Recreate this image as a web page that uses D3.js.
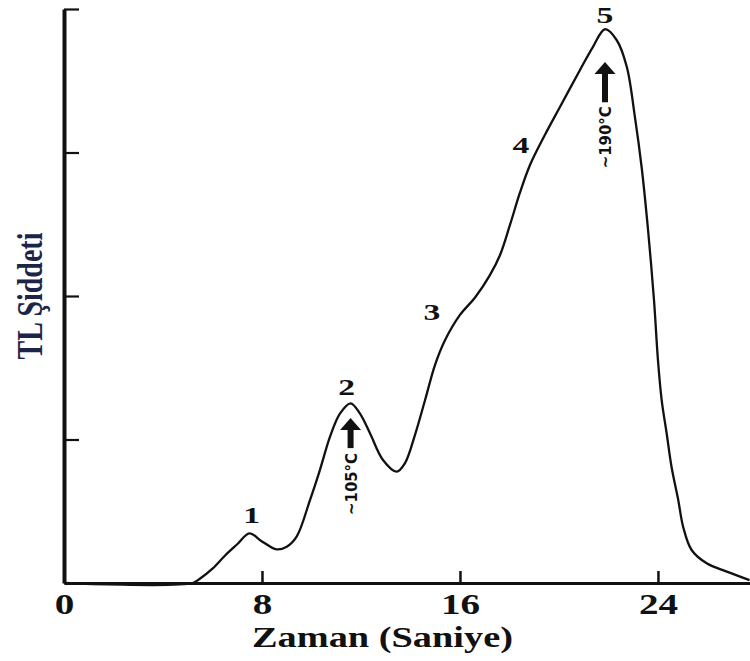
<!DOCTYPE html>
<html>
<head>
<meta charset="utf-8">
<script src="https://cdn.jsdelivr.net/npm/d3@7"></script>
<style>
  html, body { margin: 0; padding: 0; background: #fff; }
  svg { display: block; }
</style>
</head>
<body>
<svg id="chart" width="750" height="661"></svg>
<script>
// ---- data ----
const timeTicks = [0, 8, 16, 24];
const intensityTicks = [1, 2, 3, 4];

const timeVals = [0, 5.2, 5.49, 6.0, 6.5, 7.0, 7.49, 8.0, 8.59, 9.0, 9.4, 9.94, 10.34, 10.75, 11.15, 11.58,
  11.96, 12.36, 12.89, 13.44, 13.78, 14.18, 14.59, 14.99, 15.39, 16.0, 16.61, 17.21, 17.62, 18.02,
  18.42, 18.83, 19.43, 20.04, 20.85, 21.37, 21.86, 22.33, 22.74, 23.07, 23.34, 23.6, 23.84, 24.0,
  24.15, 24.35, 24.55, 24.82, 25.02, 25.36, 25.97, 26.78, 27.7];
const intensityVals = [0, 0, 0.03, 0.1, 0.19, 0.27, 0.346, 0.29, 0.235, 0.253, 0.323, 0.578, 0.787, 1.02, 1.18, 1.252,
  1.18, 1.045, 0.857, 0.776, 0.836, 1.031, 1.275, 1.519, 1.69, 1.868, 1.99, 2.146, 2.286, 2.495,
  2.718, 2.913, 3.122, 3.317, 3.575, 3.735, 3.859, 3.784, 3.598, 3.247, 2.899, 2.46, 1.972, 1.554,
  1.275, 1.045, 0.808, 0.578, 0.39, 0.23, 0.137, 0.079, 0.02];

const peakLabels = ["1", "2", "3", "4", "5"];
const peakLabelTimes = [7.58, 11.42, 14.87, 18.46, 21.86];
const peakLabelIntensities = [0.418, 1.31, 1.833, 2.997, 3.90];

const arrowTexts = ["~105°C", "~190°C"];
const arrowTimes = [11.58, 21.86];
const arrowTipIntensities = [1.15, 3.63];
const arrowBaseIntensities = [0.94, 3.35];
const arrowTextIntensities = [0.474, 2.89];

const xTitle = "Zaman (Saniye)";
const yTitle = "TL Şiddeti";

// ---- chart ----
const svg = d3.select("#chart");
const x = d3.scaleLinear().domain([0, 27.76]).range([64, 751]);
const y = d3.scaleLinear().domain([0, 4]).range([583, 9]);
const ink = "#111";
const serif = "'Liberation Serif', 'Times New Roman', Times, serif";

// curve
const pts = timeVals.map((t, i) => [t, intensityVals[i]]);
const line = d3.line().x(d => x(d[0])).y(d => y(d[1])).curve(d3.curveCatmullRom.alpha(0.5));
svg.append("path").datum(pts)
  .attr("d", line)
  .attr("fill", "none")
  .attr("stroke", ink)
  .attr("stroke-width", 2.3)
  .attr("stroke-linejoin", "round");

// x axis
const xAxis = svg.append("g")
  .attr("transform", `translate(0,${y(0)})`)
  .call(d3.axisBottom(x).tickValues(timeTicks).tickSizeInner(-12).tickSizeOuter(0).tickPadding(10));
xAxis.select(".domain").attr("stroke", ink).attr("stroke-width", 3);
xAxis.selectAll(".tick line").attr("stroke", ink).attr("stroke-width", 2.5);
xAxis.selectAll(".tick text")
  .attr("fill", ink)
  .attr("font-family", serif)
  .attr("font-weight", "bold")
  .attr("font-size", 29)
  .attr("transform", "scale(1.35,1)");

// y axis
const yAxis = svg.append("g")
  .attr("transform", `translate(${x(0)},0)`)
  .call(d3.axisLeft(y).tickValues(intensityTicks).tickSizeInner(-15).tickSizeOuter(0).tickFormat(""));
yAxis.select(".domain").attr("stroke", ink).attr("stroke-width", 4);
yAxis.selectAll(".tick line").attr("stroke", ink).attr("stroke-width", 2.2);

// axis titles
svg.append("text")
  .attr("x", 252).attr("y", 647)
  .attr("font-family", serif).attr("font-weight", "bold").attr("font-size", 29)
  .attr("fill", ink)
  .attr("textLength", 261).attr("lengthAdjust", "spacingAndGlyphs")
  .text(xTitle);

svg.append("text")
  .attr("transform", `translate(42,${(y(0) + y(4)) / 2}) rotate(-90) scale(1,1.3)`)
  .attr("text-anchor", "middle")
  .attr("font-family", serif).attr("font-weight", "bold").attr("font-size", 28)
  .attr("fill", "#1c2548")
  .text(yTitle);

// peak labels
svg.selectAll("text.peak").data(peakLabels).enter().append("text")
  .attr("class", "peak")
  .attr("transform", (d, i) => `translate(${x(peakLabelTimes[i])},${y(peakLabelIntensities[i])}) scale(1.4,1)`)
  .attr("text-anchor", "middle")
  .attr("font-family", serif).attr("font-weight", "bold").attr("font-size", 24)
  .attr("fill", ink)
  .text(d => d);

// arrows
arrowTimes.forEach((t, i) => {
  const cx = x(t), tip = y(arrowTipIntensities[i]), base = y(arrowBaseIntensities[i]);
  const headH = 12, headW = 21, shaftW = 6;
  svg.append("rect")
    .attr("x", cx - shaftW / 2).attr("y", tip + headH - 1)
    .attr("width", shaftW).attr("height", base - tip - headH + 1)
    .attr("fill", ink);
  svg.append("path")
    .attr("d", `M${cx},${tip} L${cx + headW / 2},${tip + headH} L${cx - headW / 2},${tip + headH} Z`)
    .attr("fill", ink);
  svg.append("text")
    .attr("transform", `translate(${cx + 6},${y(arrowTextIntensities[i])}) rotate(-90)`)
    .attr("text-anchor", "start")
    .attr("font-family", "'Liberation Sans Narrow', 'DejaVu Sans Condensed', 'Liberation Sans', sans-serif")
    .attr("font-weight", "bold").attr("font-size", 16)
    .attr("fill", ink)
    .attr("textLength", 62).attr("lengthAdjust", "spacingAndGlyphs")
    .text(arrowTexts[i]);
});
</script>
</body>
</html>
